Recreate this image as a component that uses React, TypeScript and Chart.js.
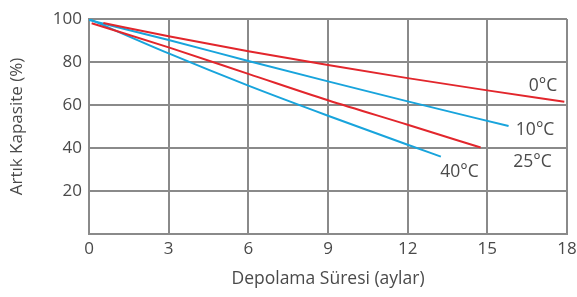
import React, { useEffect, useRef } from "react";
import { Chart, registerables } from "chart.js";

Chart.register(...registerables);

const xTicks = [0, 3, 6, 9, 12, 15, 18];
const yTicks = [0, 20, 40, 60, 80, 100];

const seriesNames = ["0°C", "10°C", "25°C", "40°C"];
const seriesColors = ["#e2262c", "#18a4dc", "#e2262c", "#18a4dc"];
const s0 = [
  { x: 0.54, y: 98.1 }, { x: 3, y: 92.0 }, { x: 6, y: 85.0 }, { x: 9, y: 78.6 },
  { x: 12, y: 72.5 }, { x: 15, y: 66.8 }, { x: 17.9, y: 61.5 },
];
const s10 = [
  { x: 0, y: 99.5 }, { x: 3, y: 90.2 }, { x: 6, y: 80.5 }, { x: 9, y: 71.0 },
  { x: 12, y: 61.7 }, { x: 15.8, y: 50.2 },
];
const s25 = [
  { x: 0.1, y: 98.0 }, { x: 3, y: 86.8 }, { x: 6, y: 74.5 }, { x: 9, y: 62.2 },
  { x: 12, y: 50.8 }, { x: 14.75, y: 40.2 },
];
const s40 = [
  { x: 0, y: 100 }, { x: 3, y: 84.0 }, { x: 6, y: 69.0 }, { x: 9, y: 55.0 },
  { x: 12, y: 41.5 }, { x: 13.25, y: 36.0 },
];
const labelX = [17.1, 16.8, 16.7, 13.95];
const labelY = [68.8, 48.4, 33.5, 28.8];

const FONT = "'Open Sans', 'Noto Sans', sans-serif";
const TEXT = "#4a4a4a";

export default function App() {
  const ref = useRef<HTMLCanvasElement>(null);
  useEffect(() => {
    document.body.style.margin = "0";
    const labelPlugin = {
      id: "lineLabels",
      afterDatasetsDraw(chart: any) {
        const ctx = chart.ctx;
        const xs = chart.scales.x;
        const ys = chart.scales.y;
        ctx.save();
        ctx.font = `17.5px ${FONT}`;
        ctx.fillStyle = TEXT;
        ctx.textAlign = "center";
        ctx.textBaseline = "middle";
        seriesNames.forEach((n, i) => {
          ctx.fillText(n, xs.getPixelForValue(labelX[i]), ys.getPixelForValue(labelY[i]));
        });
        ctx.restore();
      },
    };
    const data = [s0, s10, s25, s40];
    const chart = new Chart(ref.current!, {
      type: "scatter",
      data: {
        datasets: data.map((d, i) => ({
          label: seriesNames[i],
          data: d,
          showLine: true,
          borderColor: seriesColors[i],
          backgroundColor: seriesColors[i],
          borderWidth: 2,
          pointRadius: 0,
          cubicInterpolationMode: "monotone" as const,
        })),
      },
      options: {
        responsive: false,
        animation: false,
        layout: { padding: { top: 19, right: 10, left: 0, bottom: 0 } },
        plugins: { legend: { display: false }, tooltip: { enabled: false } },
        scales: {
          x: {
            type: "linear",
            min: 0,
            max: 18,
            afterBuildTicks(scale: any) {
              scale.ticks = xTicks.map((v) => ({ value: v }));
            },
            afterFit(scale: any) {
              scale.height = 63;
              scale.paddingLeft = 0;
              scale.paddingRight = 0;
            },
            grid: { color: "#8a8a8a", lineWidth: 2, drawTicks: false },
            border: { color: "#8a8a8a", width: 2 },
            ticks: { color: TEXT, font: { family: FONT, size: 17 }, padding: 5 },
            title: {
              display: true,
              text: "Depolama Süresi (aylar)",
              color: TEXT,
              font: { family: FONT, size: 17.5 },
              padding: { top: 0, bottom: 7 },
            },
          },
          y: {
            type: "linear",
            min: 0,
            max: 100,
            afterBuildTicks(scale: any) {
              scale.ticks = yTicks.map((v) => ({ value: v }));
            },
            afterFit(scale: any) {
              scale.width = 89;
              scale.paddingTop = 0;
              scale.paddingBottom = 0;
            },
            grid: { color: "#8a8a8a", lineWidth: 2, drawTicks: false },
            border: { color: "#8a8a8a", width: 2 },
            ticks: {
              color: TEXT,
              font: { family: FONT, size: 17 },
              padding: 7,
              callback: (v: any) => (v === 0 ? "" : String(v)),
            },
            title: {
              display: true,
              text: "Artık Kapasite (%)",
              color: TEXT,
              font: { family: FONT, size: 17 },
              padding: { top: 7, bottom: 4 },
            },
          },
        },
      },
      plugins: [labelPlugin],
    });
    return () => chart.destroy();
  }, []);
  return (
    <div style={{ position: "fixed", left: 0, top: 0, width: 577, height: 297, background: "#fff" }}>
      <canvas ref={ref} width={577} height={297} />
    </div>
  );
}
